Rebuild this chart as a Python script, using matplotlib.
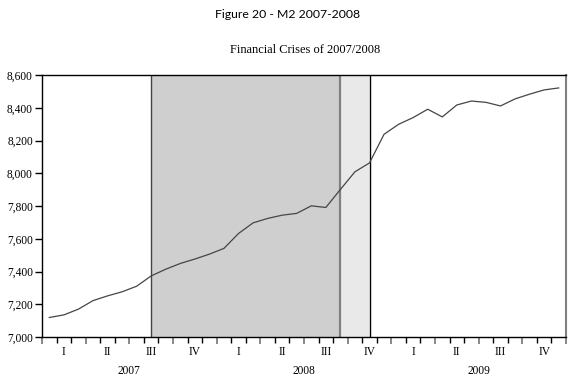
import matplotlib
matplotlib.use("Agg")
import matplotlib.pyplot as plt
import numpy as np

# Monthly M2 (billions), Jan 2007 - Dec 2009
m2 = [7119, 7135, 7170, 7222, 7251, 7276, 7310, 7373, 7414, 7449, 7476, 7506,
      7541, 7632, 7697, 7724, 7744, 7755, 7801, 7791, 7901, 8009, 8063, 8238,
      8299, 8340, 8391, 8344, 8417, 8441, 8433, 8411, 8454, 8483, 8509, 8521]
years = ["2007", "2008", "2009"]
quarters = ["I", "II", "III", "IV"]
yticks = [7000, 7200, 7400, 7600, 7800, 8000, 8200, 8400, 8600]
crisis_dark = (7.5, 20.5)   # month-index span (Aug 2007 - Sep 2008)
crisis_light = (20.5, 22.5)  # Sep 2008 - Nov 2008

W, H = 576, 386
fig = plt.figure(figsize=(W/100, H/100), dpi=100)
L, R, T, B = 42, 566, 75, 337
ax = fig.add_axes([L/W, 1-B/H, (R-L)/W, (B-T)/H])

serif = "Liberation Serif"
x = np.arange(len(m2)) + 0.5
ax.axvspan(*crisis_dark, color="#cfcfcf", zorder=0, lw=0)
ax.axvspan(*crisis_light, color="#e9e9e9", zorder=0, lw=0)
ax.axvline(crisis_dark[0], color="#444444", lw=1.0, zorder=1)
ax.axvline(crisis_dark[1], color="#808080", lw=1.6, zorder=1)
ax.axvline(crisis_light[1], color="#000000", lw=1.0, zorder=1)
ax.plot(x, m2, color="#454545", lw=0.9, zorder=2)

ax.set_xlim(0, 36)
ax.set_ylim(7000, 8600)
ax.set_yticks(yticks)
ax.set_yticklabels([f"{v:,}" for v in yticks], fontfamily=serif, fontsize=8.3)
ax.tick_params(axis="y", direction="out", length=5, width=1, pad=1.5)

ax.set_xticks(np.arange(0, 37, 3))
ax.set_xticks([m for m in range(37) if m % 3 != 0], minor=True)
ax.set_xticklabels([])
ax.tick_params(axis="x", which="major", direction="out", length=5, width=1.4, color="#888888")
ax.tick_params(axis="x", which="minor", direction="out", length=4, width=1, color="black")

for s in ["left", "bottom", "top"]:
    ax.spines[s].set_color("black")
    ax.spines[s].set_linewidth(1.0)
ax.spines["right"].set_color("#808080")
ax.spines["right"].set_linewidth(1.5)

trans = ax.get_xaxis_transform()
for yi, yr in enumerate(years):
    for qi, q in enumerate(quarters):
        xc = yi*12 + qi*3 + 1.5
        ax.text(xc, -0.058, q, transform=trans, ha="center", va="center",
                fontfamily=serif, fontsize=8.3)
    ax.text(yi*12 + 6, -0.13, yr, transform=trans, ha="center", va="center",
            fontfamily=serif, fontsize=8.3)

fig.text(288/W, 1-15/H, "Figure 20 - M2 2007-2008", ha="center", va="center",
         fontfamily="Lato", fontsize=8.8)
fig.text(305/W, 1-50/H, "Financial Crises of 2007/2008", ha="center", va="center",
         fontfamily=serif, fontsize=8.9)

fig.savefig("out.png", dpi=100)
